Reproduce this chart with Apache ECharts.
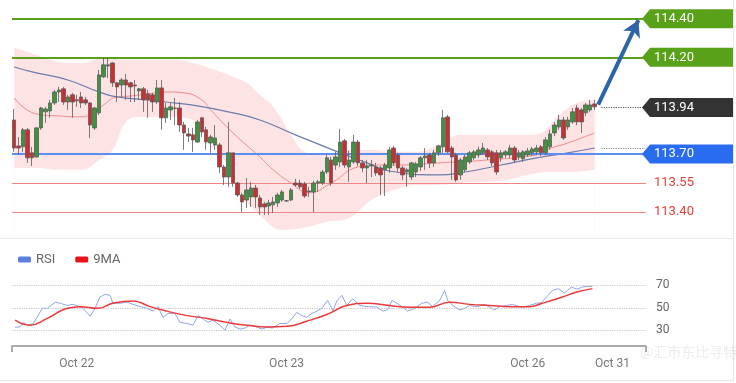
<!DOCTYPE html>
<html><head><meta charset="utf-8">
<script src="https://cdn.jsdelivr.net/npm/echarts@6/dist/echarts.min.js"></script>
<style>html,body{margin:0;padding:0;background:#fff}#c{width:736px;height:383px}</style>
</head><body><div id="c"></div><script>
// ---- data ----
const totalSlots = 142;
const tickIdx = [14, 61, 115, 134];
const tickText = ['Oct 22', 'Oct 23', 'Oct 26', 'Oct 31'];

const opens = [113.876,113.742,113.737,113.825,113.706,113.685,113.835,113.918,113.923,113.964,
114.021,114.037,113.969,114.006,113.980,113.995,113.980,113.964,113.835,113.913,
114.099,114.155,114.171,114.068,114.057,114.083,114.068,114.057,114.026,114.037,
114.011,114.006,113.969,114.042,113.887,113.928,113.938,113.938,113.850,113.804,
113.799,113.762,113.887,113.825,113.757,113.747,113.747,113.633,113.581,113.706,
113.550,113.488,113.462,113.478,113.524,113.473,113.442,113.431,113.437,113.447,
113.462,113.457,113.462,113.550,113.550,113.545,113.504,113.504,113.550,113.550,
113.607,113.669,113.643,113.659,113.768,113.633,113.659,113.762,113.654,113.628,
113.638,113.633,113.628,113.618,113.628,113.731,113.695,113.628,113.607,113.581,
113.607,113.633,113.680,113.695,113.654,113.706,113.737,113.892,113.731,113.695,
113.592,113.618,113.659,113.680,113.695,113.706,113.721,113.711,113.706,113.680,
113.695,113.695,113.731,113.685,113.675,113.695,113.706,113.711,113.737,113.706,
113.737,113.809,113.840,113.876,113.840,113.866,113.938,113.928,113.913,113.928,
113.959];
const closes = [113.731,113.731,113.825,113.680,113.680,113.835,113.938,113.933,113.964,114.021,
114.031,113.969,113.995,113.969,113.975,113.964,113.964,113.850,113.938,114.109,
114.161,114.161,114.068,114.047,114.083,114.057,114.047,114.052,114.037,113.980,
113.980,113.969,114.042,113.887,113.938,113.944,113.936,113.850,113.809,113.793,
113.773,113.866,113.814,113.762,113.788,113.783,113.633,113.581,113.706,113.550,
113.488,113.452,113.514,113.524,113.478,113.426,113.426,113.447,113.452,113.488,
113.504,113.458,113.514,113.540,113.530,113.483,113.509,113.550,113.556,113.607,
113.680,113.550,113.685,113.762,113.643,113.669,113.762,113.654,113.628,113.638,
113.643,113.602,113.592,113.643,113.721,113.654,113.628,113.592,113.618,113.654,
113.649,113.680,113.690,113.654,113.706,113.742,113.887,113.711,113.685,113.566,
113.669,113.685,113.706,113.711,113.721,113.731,113.685,113.654,113.607,113.706,
113.711,113.731,113.669,113.706,113.711,113.716,113.726,113.731,113.706,113.773,
113.804,113.850,113.876,113.783,113.876,113.918,113.866,113.866,113.954,113.954,
113.944];
const lows = [113.711,113.695,113.711,113.654,113.638,113.680,113.825,113.861,113.887,113.954,
113.969,113.954,113.928,113.887,113.944,113.938,113.954,113.783,113.825,113.902,
114.093,114.093,114.047,113.969,113.995,113.980,113.969,113.969,113.980,113.918,
113.887,113.918,113.959,113.825,113.861,113.876,113.850,113.814,113.721,113.762,
113.711,113.757,113.788,113.721,113.706,113.721,113.602,113.540,113.530,113.530,
113.478,113.400,113.421,113.426,113.421,113.385,113.385,113.385,113.395,113.426,
113.452,113.452,113.457,113.530,113.519,113.473,113.478,113.400,113.504,113.540,
113.597,113.535,113.618,113.633,113.628,113.556,113.649,113.638,113.607,113.550,
113.581,113.587,113.488,113.483,113.602,113.638,113.607,113.566,113.530,113.566,
113.581,113.612,113.618,113.628,113.633,113.690,113.706,113.706,113.566,113.556,
113.566,113.607,113.649,113.669,113.680,113.695,113.669,113.638,113.592,113.659,
113.680,113.680,113.654,113.669,113.659,113.685,113.690,113.695,113.690,113.695,
113.721,113.793,113.825,113.773,113.825,113.856,113.850,113.809,113.897,113.918,
113.928];
const highs = [113.933,113.788,113.835,113.835,113.737,113.840,113.944,113.944,113.980,114.031,
114.047,114.047,114.006,114.016,114.006,114.021,113.995,113.969,113.944,114.135,
114.197,114.197,114.176,114.073,114.093,114.114,114.073,114.083,114.042,114.047,
114.031,114.016,114.083,114.083,113.964,113.964,113.990,113.969,113.866,113.835,
113.835,113.876,113.892,113.840,113.799,113.850,113.757,113.643,113.866,113.706,
113.556,113.499,113.576,113.556,113.540,113.488,113.452,113.462,113.478,113.499,
113.514,113.462,113.524,113.571,113.566,113.556,113.530,113.561,113.566,113.618,
113.695,113.685,113.711,113.830,113.778,113.716,113.799,113.773,113.669,113.669,
113.669,113.654,113.638,113.654,113.737,113.742,113.706,113.638,113.628,113.659,
113.659,113.690,113.731,113.706,113.721,113.747,113.928,113.902,113.742,113.706,
113.680,113.695,113.716,113.721,113.737,113.757,113.731,113.721,113.721,113.721,
113.721,113.747,113.742,113.721,113.721,113.731,113.737,113.747,113.747,113.788,
113.825,113.866,113.902,113.892,113.892,113.938,113.954,113.938,113.964,113.980,
113.980];

const upperIdx = [0,5,10,15,20,25,30,35,40,45,48,52,55,58,62,65,70,75,80,85,90,95,100,105,110,115,118,122,126,130];
const upperVal = [114.249,114.212,114.176,114.171,114.197,114.187,114.187,114.187,114.171,114.135,114.109,114.068,114.006,113.944,113.799,113.711,113.695,113.721,113.721,113.711,113.711,113.747,113.799,113.799,113.799,113.799,113.809,113.902,113.964,113.980];
const lowerIdx = [0,5,10,15,19,22,25,28,35,40,44,47,51,55,60,65,70,75,80,85,90,95,100,105,110,115,120,125,130];
const lowerVal = [113.628,113.628,113.618,113.618,113.669,113.721,113.866,113.892,113.892,113.876,113.773,113.669,113.488,113.385,113.307,113.318,113.349,113.369,113.462,113.514,113.540,113.540,113.550,113.556,113.566,113.592,113.607,113.607,113.618];
const midIdx = [0,5,10,15,18,20,23,26,30,34,38,42,44,49,55,58,62,66,71,77,81,86,95,106,117,119,124,130];
const midVal = [113.990,113.907,113.897,113.892,113.918,113.954,113.995,114.000,114.011,114.021,114.016,113.980,113.928,113.809,113.685,113.618,113.550,113.499,113.550,113.633,113.643,113.643,113.654,113.669,113.695,113.721,113.757,113.809];
const maIdx = [0,4,12,19,23,30,34,41,48,55,63,73,79,84,95,101,109,117,124,130];
const maVal = [114.150,114.125,114.083,114.021,113.995,113.980,113.969,113.949,113.918,113.876,113.799,113.706,113.654,113.612,113.592,113.607,113.643,113.680,113.706,113.731];

const rsiIdx = [0.2,1.3,2.0,3.1,4.3,6.3,7.4,9.2,10.3,11.9,13.0,14.1,15.4,17.0,18.1,19.2,20.4,21.5,22.1,23.7,25.3,26.6,28.2,29.8,31.1,32.2,33.3,34.5,36.0,37.1,38.7,40.0,41.2,42.3,43.4,44.5,46.1,47.2,48.3,49.4,50.6,51.7,52.8,53.9,55.5,56.6,57.9,59.5,61.1,62.2,63.3,64.4,65.5,66.7,67.8,68.9,70.2,71.4,72.3,73.4,74.5,75.8,77.4,79.0,79.6,81.2,82.6,83.7,84.6,85.7,86.8,88.1,89.7,91.3,92.6,93.7,95.3,96.4,97.1,98.2,99.8,100.9,102.0,103.6,105.4,106.5,107.6,108.7,110.3,111.6,113.6,115.4,117.0,118.1,119.2,120.6,121.9,123.2,124.8,126.0,127.3,128.4,129.5];
const rsiVal = [32.7,33,37,34.5,36,49.5,49.5,55,54,52,53,52,49.5,42.5,49.5,59.5,62,61,54,54,55,53,51,49.5,47,51,41.5,45,45,37,36,34.5,43,40,37,39,34.5,30,40,33,31,32,34.5,33.5,31,32.7,32,36,36,40.5,46,43,41.5,45,47,49.5,56.5,47.5,56.5,61,52,58,52,51,51,50.5,47,48.5,56.5,54,51,47,49.5,54,55,51,56.5,65.5,56.5,52,48,49.5,52,51,53,50.5,48,51,52,53,50.5,52,54,54.5,59.5,65.5,67,63,68.5,66.5,68.5,69,69];
const rsiMaIdx = [0.2,3.6,7.4,11.9,14.8,18.6,22.1,26.6,30.4,34.2,38.7,43.2,47.7,52.1,56.6,61.1,65.5,70.0,74.5,79.0,84.1,88.6,93.1,97.5,102.0,106.5,111.0,115.4,118.3,122.8,126.0,129.5];
const rsiMaVal = [39,34.5,40.5,49.5,51,49.5,54,56,51,47,43,40.5,37,34.5,33,33.5,38,44,52,54,52,50.5,50.5,55,53,52,51,51,54,59.5,64,67];
const rsiTicks = [30, 50, 70];

const levelValues = [114.40, 114.20, 113.94, 113.70, 113.55, 113.40];
const levelLabels = ['114.40', '114.20', '113.94', '113.70', '113.55', '113.40'];
const arrowFrom = [130.8, 113.955];
const arrowTo = [139.8, 114.392];
const watermark = '@汇市东比寻特';

// ---- styles ----
const tagColors = ['#58a118', '#58a118', '#333333', '#2a6cf0', null, null];
const lineColors = ['#58a118', '#58a118', null, '#5b8ff2', '#f08585', '#f08585'];
const lineWidths = [2, 2, 0, 2, 1, 1];
const FONT = 'Roboto, Arial, sans-serif';

const pairs = (xs, ys) => xs.map((x, i) => [x, ys[i]]);
const cats = Array.from({length: totalSlots}, (_, i) => String(i));
const candles = opens.map((o, i) => [o, closes[i], lows[i], highs[i]]);

const chart = echarts.init(document.getElementById('c'), null, {renderer: 'canvas'});
const GL = 12, GR = 90;

const levelLines = [];
levelValues.forEach((v, i) => {
  if (lineColors[i]) levelLines.push({yAxis: v, lineStyle: {color: lineColors[i], width: lineWidths[i], type: 'solid'}});
});

chart.setOption({
  animation: false,
  backgroundColor: '#fff',
  textStyle: {fontFamily: FONT},
  grid: [
    {left: GL, right: GR, top: 9, height: 226.2},
    {left: GL, right: GR, top: 274, height: 72}
  ],
  legend: {
    left: 13, top: 248, itemWidth: 13, itemHeight: 6, itemGap: 20, icon: 'roundRect',
    textStyle: {color: '#666', fontSize: 13, fontFamily: FONT},
    data: [{name: 'RSI', itemStyle: {color: '#5b7fdd'}}, {name: '9MA', itemStyle: {color: '#e8141c'}}]
  },
  xAxis: [
    {type: 'category', gridIndex: 0, data: cats, boundaryGap: true, show: false},
    {type: 'value', gridIndex: 0, min: -0.5, max: totalSlots - 0.5, show: false},
    {type: 'category', gridIndex: 1, data: cats, boundaryGap: true,
      axisLine: {lineStyle: {color: '#aaa', width: 2}},
      axisTick: {show: false},
      splitLine: {show: false},
      axisLabel: {
        interval: (i) => tickIdx.includes(i),
        formatter: (v) => { const k = tickIdx.indexOf(+v); return k >= 0 ? tickText[k] : ''; },
        color: '#777', fontSize: 12, margin: 12, fontFamily: FONT
      }},
    {type: 'value', gridIndex: 1, min: -0.5, max: totalSlots - 0.5, show: false}
  ],
  yAxis: [
    {type: 'value', gridIndex: 0, min: 113.28, max: 114.45, show: false},
    {type: 'value', gridIndex: 1, min: 16, max: 80, position: 'right',
      axisLine: {show: false}, axisTick: {show: false}, splitLine: {show: false},
      axisLabel: {customValues: rsiTicks, color: '#666', fontSize: 12, margin: 10, fontFamily: FONT}}
  ],
  series: [
    {type: 'line', xAxisIndex: 1, yAxisIndex: 0, data: pairs(upperIdx, upperVal), smooth: 0.4,
      symbol: 'none', lineStyle: {width: 0}, areaStyle: {color: '#fde3e3', opacity: 1, origin: 'start'}, z: 1, silent: true},
    {type: 'line', xAxisIndex: 1, yAxisIndex: 0, data: pairs(lowerIdx, lowerVal), smooth: 0.4,
      symbol: 'none', lineStyle: {width: 0}, areaStyle: {color: '#ffffff', opacity: 1, origin: 'start'}, z: 2, silent: true},
    {type: 'candlestick', xAxisIndex: 0, yAxisIndex: 0, data: candles, barWidth: 4, z: 5,
      itemStyle: {color: '#3a963a', color0: '#d42a2e', borderColor: '#5c5c5c', borderColor0: '#5c5c5c', borderWidth: 0.8},
      markLine: {silent: true, symbol: 'none', label: {show: false}, data: levelLines}},
    {type: 'line', xAxisIndex: 1, yAxisIndex: 0, data: pairs(midIdx, midVal), smooth: true,
      symbol: 'none', lineStyle: {color: '#f08c8c', width: 1}, z: 4, silent: true},
    {type: 'line', xAxisIndex: 1, yAxisIndex: 0, data: pairs(maIdx, maVal), smooth: true,
      symbol: 'none', lineStyle: {color: '#6b7cae', width: 1.2}, z: 4, silent: true,
      markLine: {silent: true, symbol: 'none', label: {show: false}, data: [
        [{coord: [131.5, closes[closes.length - 1]], lineStyle: {color: '#555', type: 'dotted', width: 1.2}},
         {coord: [141.3, closes[closes.length - 1]]}],
        [{coord: [131.5, maVal[maVal.length - 1]], lineStyle: {color: '#888', type: 'dotted', width: 1.2}},
         {coord: [141.3, maVal[maVal.length - 1]]}],
        [{coord: arrowFrom, symbol: 'none', lineStyle: {color: '#2c65a9', width: 4, type: 'solid'}},
         {coord: arrowTo, symbol: 'arrow', symbolSize: [14, 16]}]
      ]}},
    {name: 'RSI', type: 'line', xAxisIndex: 3, yAxisIndex: 1, data: pairs(rsiIdx, rsiVal),
      symbol: 'none', color: '#5b7fdd', lineStyle: {color: '#8ea5ea', width: 1}, z: 4,
      markLine: {silent: true, symbol: 'none', label: {show: false},
        lineStyle: {color: '#c4c4c4', type: 'dotted', width: 1.2},
        data: rsiTicks.map(v => ({yAxis: v}))}},
    {name: '9MA', type: 'line', xAxisIndex: 3, yAxisIndex: 1, data: pairs(rsiMaIdx, rsiMaVal), smooth: true,
      symbol: 'none', color: '#e8141c', lineStyle: {color: '#ea3a3a', width: 1.5}, z: 5}
  ]
});

// ---- right-side tags and decorations ----
const els = [
  {type: 'line', shape: {x1: 0, y1: 238.5, x2: 733, y2: 238.5}, style: {stroke: '#e8e8e8', lineWidth: 1}, silent: true},
  {type: 'line', shape: {x1: 733.5, y1: 0, x2: 733.5, y2: 381}, style: {stroke: '#e8e8e8', lineWidth: 1}, silent: true},
  {type: 'line', shape: {x1: 0, y1: 380.5, x2: 734, y2: 380.5}, style: {stroke: '#e8e8e8', lineWidth: 1}, silent: true},
  {type: 'line', shape: {x1: GL, y1: 346, x2: GL, y2: 352}, style: {stroke: '#aaa', lineWidth: 2}, silent: true},
  {type: 'line', shape: {x1: 736 - GR, y1: 346, x2: 736 - GR, y2: 352}, style: {stroke: '#aaa', lineWidth: 2}, silent: true},
  {type: 'text', x: 640, y: 345, style: {text: watermark, fill: 'rgba(170,170,170,0.22)', font: '14px "Noto Sans CJK SC"'}, silent: true, z: 100}
];
levelValues.forEach((v, i) => {
  const y = chart.convertToPixel({yAxisIndex: 0}, v);
  if (tagColors[i]) {
    els.push({type: 'polygon', shape: {points: [[642, y], [650, y - 9.5], [733, y - 9.5], [733, y + 9.5], [650, y + 9.5]]},
      style: {fill: tagColors[i]}, silent: true, z: 50});
    els.push({type: 'text', x: 654, y: y, style: {text: levelLabels[i], fill: '#fff', font: '13px ' + FONT, verticalAlign: 'middle'}, silent: true, z: 51});
  } else {
    els.push({type: 'text', x: 654, y: y, style: {text: levelLabels[i], fill: '#e8403a', font: '13px ' + FONT, verticalAlign: 'middle'}, silent: true, z: 51});
  }
});
chart.setOption({graphic: {elements: els}});
</script></body></html>
